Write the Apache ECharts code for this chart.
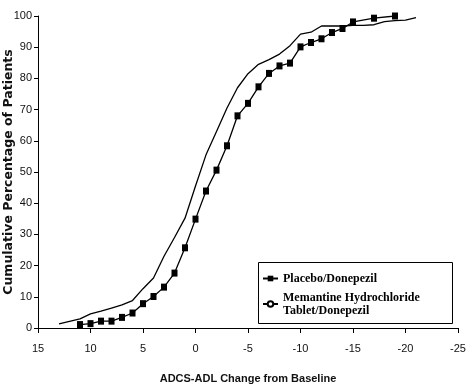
<!DOCTYPE html>
<html>
<head>
<meta charset="utf-8">
<script src="https://cdn.jsdelivr.net/npm/echarts@6/dist/echarts.min.js"></script>
<style>
html,body{margin:0;padding:0;background:#fff;}
#chart{width:471px;height:387px;}
</style>
</head>
<body>
<div id="chart"></div>
<script>
// ---- data ----
const seriesNames = ['Placebo/Donepezil', 'Memantine Hydrochloride Tablet/Donepezil'];
const legendLabels = ['Placebo/Donepezil', 'Memantine Hydrochloride\nTablet/Donepezil'];

const xPlacebo = [11, 10, 9, 8, 7, 6, 5, 4, 3, 2, 1, 0, -1, -2, -3, -4, -5, -6, -7, -8, -9, -10, -11, -12, -13, -14, -15, -17, -19];
const placebo  = [1.1, 1.4, 2.2, 2.2, 3.4, 4.8, 7.8, 10.1, 13.1, 17.6, 25.7, 34.9, 43.9, 50.6, 58.4, 68, 72, 77.3, 81.6, 84, 84.9, 90.1, 91.5, 92.7, 94.7, 96, 98.1, 99.3, 100];

const xMemantine = [13, 12, 11, 10, 9, 8, 7, 6, 5, 4, 3, 2, 1, 0, -1, -2, -3, -4, -5, -6, -7, -8, -9, -10, -11, -12, -13, -14, -15, -16, -17, -18, -19, -20, -21];
const memantine  = [1.3, 2.1, 2.9, 4.5, 5.4, 6.4, 7.4, 8.8, 12.6, 16, 23, 29, 35.2, 45.5, 55.5, 63, 70.5, 77, 81.5, 84.5, 86, 87.8, 90.5, 94.2, 94.8, 96.8, 96.8, 96.8, 97, 97, 97.2, 98.2, 98.5, 98.7, 99.5];

const xTicks = [15, 10, 5, 0, -5, -10, -15, -20, -25];
const yTicks = [0, 10, 20, 30, 40, 50, 60, 70, 80, 90, 100];
const xTitle = 'ADCS-ADL Change from Baseline';
const yTitle = 'Cumulative Percentage of Patients';
// --------------------------------------

const sans = '"Liberation Sans Narrow", "Arial Narrow", "Liberation Sans", Arial, sans-serif';
const chart = echarts.init(document.getElementById('chart'), null, {renderer: 'canvas'});

const option = {
  animation: false,
  backgroundColor: '#fff',
  grid: {left: 38, right: 13, top: 16, bottom: 59, containLabel: false, outerBoundsMode: 'none'},
  xAxis: {
    type: 'value',
    inverse: true,
    min: Math.min(...xTicks),
    max: Math.max(...xTicks),
    interval: 5,
    name: xTitle,
    nameLocation: 'middle',
    nameGap: 45,
    nameTextStyle: {fontFamily: sans, fontSize: 11, fontWeight: 'bold', color: '#111'},
    axisLine: {show: true, onZero: false, lineStyle: {color: '#000', width: 1}},
    axisTick: {show: true, inside: false, length: 5, lineStyle: {color: '#000'}},
    axisLabel: {fontFamily: sans, fontSize: 11, color: '#111', margin: 15},
    splitLine: {show: false}
  },
  yAxis: {
    type: 'value',
    position: 'left',
    min: Math.min(...yTicks),
    max: Math.max(...yTicks),
    interval: 10,
    name: yTitle,
    nameLocation: 'middle',
    nameGap: 23,
    nameMoveOverlap: false,
    nameTextStyle: {fontFamily: '"DejaVu Sans", sans-serif', fontSize: 12.5, fontWeight: 'bold', color: '#111'},
    axisLine: {show: true, onZero: false, lineStyle: {color: '#000', width: 1}},
    axisTick: {show: true, inside: false, length: 4, lineStyle: {color: '#000'}},
    axisLabel: {fontFamily: sans, fontSize: 11, color: '#111', margin: 6},
    splitLine: {show: false}
  },
  legend: {
    orient: 'vertical',
    left: 262,
    top: 272,
    padding: 0,
    itemGap: 6,
    itemWidth: 15,
    itemHeight: 7,
    data: seriesNames,
    formatter: function (name) { return legendLabels[seriesNames.indexOf(name)]; },
    textStyle: {fontFamily: '"Liberation Serif", "Times New Roman", serif', fontSize: 12, fontWeight: 'bold', color: '#000', lineHeight: 13}
  },
  graphic: [{
    type: 'rect',
    z: -1,
    shape: {x: 258.5, y: 262.5, width: 194, height: 61},
    style: {fill: '#fff', stroke: '#000', lineWidth: 1}
  }],
  series: [
    {
      name: seriesNames[0],
      type: 'line',
      data: xPlacebo.map((x, i) => [x, placebo[i]]),
      symbol: 'rect',
      symbolSize: [6, 7],
      showSymbol: true,
      lineStyle: {color: '#000', width: 1.3},
      itemStyle: {color: '#000'},
      z: 3
    },
    {
      name: seriesNames[1],
      type: 'line',
      data: xMemantine.map((x, i) => [x, memantine[i]]),
      symbol: 'emptyCircle',
      symbolSize: 4,
      showSymbol: false,
      lineStyle: {color: '#000', width: 1.3},
      itemStyle: {color: '#000'},
      z: 2
    }
  ]
};
chart.setOption(option);
</script>
</body>
</html>
